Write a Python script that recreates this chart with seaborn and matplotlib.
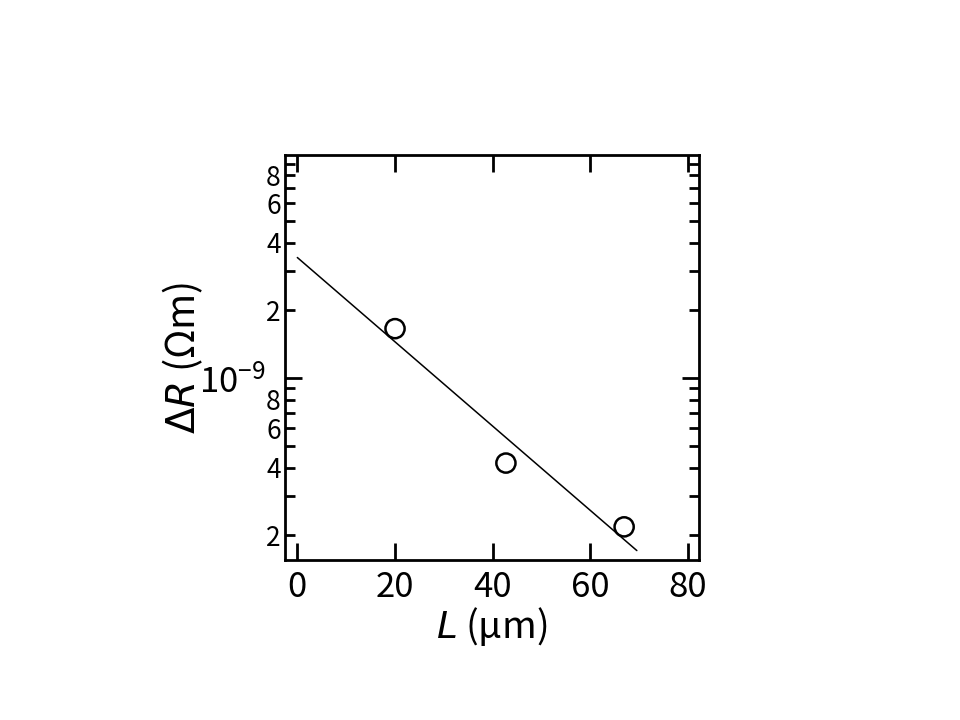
import math
import matplotlib
matplotlib.use('Agg')
import matplotlib.pyplot as plt
import matplotlib.ticker as mticker
import seaborn as sns
import pandas as pd

# measured points
length_um = [20.0, 42.7, 66.9]
delta_r = [1.66e-9, 4.19e-10, 2.18e-10]

# fitted line end points
fit_length = [0.0, 69.5]
fit_delta_r = [3.44e-9, 1.71e-10]

x_ticks = [0, 20, 40, 60, 80]

sns.set_theme(style='ticks')
plt.rcParams['font.family'] = ['Noto Sans CJK JP', 'DejaVu Sans']
plt.rcParams['mathtext.fontset'] = 'dejavusans'
plt.rcParams['text.color'] = 'black'
plt.rcParams['axes.labelcolor'] = 'black'
plt.rcParams['xtick.color'] = 'black'
plt.rcParams['ytick.color'] = 'black'

df = pd.DataFrame({'L': length_um, 'dR': delta_r})
fit = pd.DataFrame({'L': fit_length, 'dR': fit_delta_r})

fig = plt.figure(figsize=(9.6, 7.2), dpi=100)
ax = fig.add_axes([0.297, 0.222, 0.431, 0.563])

sns.lineplot(data=fit, x='L', y='dR', ax=ax, color='black', linewidth=1.1)
sns.scatterplot(data=df, x='L', y='dR', ax=ax, marker='o', s=190,
                facecolor='none', edgecolor='black', linewidth=1.8, zorder=3)

ax.set_yscale('log')
ax.set_xlim(-2.5, 82.2)
ax.set_ylim(1.55e-10, 9.85e-9)

ax.set_xticks(x_ticks)
ax.xaxis.set_minor_locator(mticker.NullLocator())
ax.yaxis.set_major_locator(mticker.LogLocator(base=10, numticks=10))
ax.yaxis.set_minor_locator(mticker.LogLocator(base=10, subs=range(2, 10), numticks=20))

def in_view(v):
    lo, hi = ax.get_ylim()
    return lo <= v <= hi

def major_fmt(v, pos):
    # only the decade that sits inside the axes gets a label
    if not in_view(v):
        return ''
    return '$\\mathdefault{10^{%d}}$' % round(math.log10(v))

def minor_fmt(v, pos):
    # 2, 4, 6, 8 labelled, 3, 5, 7, 9 only ticked
    if not in_view(v):
        return ''
    lead = round(v / 10 ** math.floor(math.log10(v) + 1e-9))
    return str(lead) if lead in (2, 4, 6, 8) else ''

ax.yaxis.set_major_formatter(mticker.FuncFormatter(major_fmt))
ax.yaxis.set_minor_formatter(mticker.FuncFormatter(minor_fmt))

ax.tick_params(which='both', direction='in', top=True, right=True, width=2)
ax.tick_params(axis='x', which='major', length=12, labelsize=25, pad=7)
ax.tick_params(axis='y', which='major', length=12, labelsize=25, pad=14)
ax.tick_params(axis='y', which='minor', length=7, labelsize=19, pad=3)

for s in ax.spines.values():
    s.set_linewidth(2)
    s.set_color('black')

ax.set_xlabel('$\\mathit{L}$ (µm)', fontsize=27, labelpad=0)
ax.set_ylabel('$\\mathit{\\Delta R}$ (Ωm)', fontsize=28, labelpad=-4)

fig.savefig('out.png', dpi=100)
